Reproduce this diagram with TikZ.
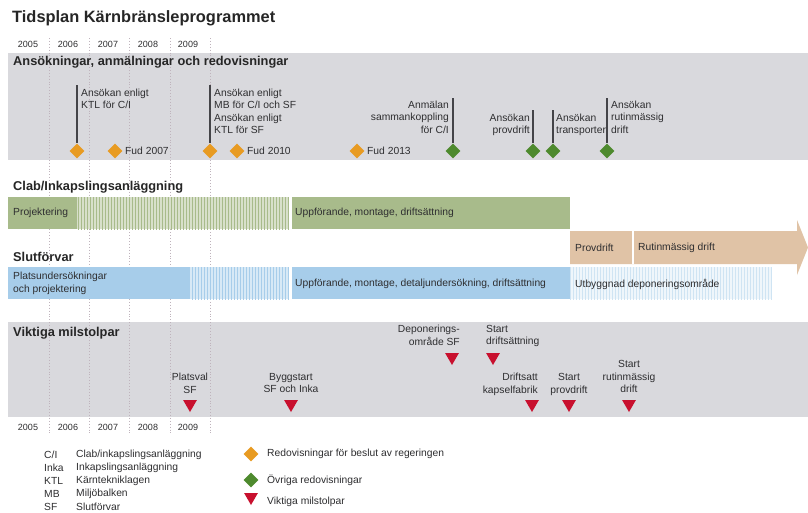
\documentclass[tikz,border=0pt]{standalone}
\usepackage{fontspec}
\setmainfont{Liberation Sans}
\usetikzlibrary{shapes.geometric,patterns}
\definecolor{bandgray}{HTML}{D9D9DD}
\definecolor{txt}{HTML}{2E2E30}
\definecolor{gridc}{HTML}{BFB3BC}
\definecolor{greenbar}{HTML}{A8BB8B}
\definecolor{bluebar}{HTML}{A7CDEA}
\definecolor{tanbar}{HTML}{E0C3A6}
\definecolor{orangem}{HTML}{E89B22}
\definecolor{greenm}{HTML}{4E8A2E}
\definecolor{redm}{HTML}{C8102E}
\definecolor{stemc}{HTML}{444448}
\tikzset{
  lbl/.style={inner sep=0pt, text=txt, font=\fontsize{10.3}{12.6}\selectfont},
  yr/.style={inner sep=0pt, text=txt, font=\fontsize{9}{11}\selectfont},
  sectitle/.style={inner sep=0pt, text=black!85, font=\bfseries\fontsize{12.8}{14}\selectfont, anchor=west},
  odia/.style={diamond, fill=orangem, inner sep=0pt, minimum size=15pt},
  gdia/.style={diamond, fill=greenm, inner sep=0pt, minimum size=15pt},
  rtri/.style={regular polygon, regular polygon sides=3, shape border rotate=180, fill=redm, inner sep=0pt, minimum size=16pt},
  stem/.style={draw=stemc, line width=1.9pt},
  gridline/.style={draw=gridc, dotted, line width=0.9pt},
}
\begin{document}
\begin{tikzpicture}[x=1pt,y=-1pt]
\useasboundingbox (0,0) rectangle (808,512);
\fill[white] (0,0) rectangle (808,512);
% title
\node[inner sep=0pt, anchor=west, font=\bfseries\fontsize{16.4}{18}\selectfont, text=black!85] (title) at (12,18) {Tidsplan Kärnbränsleprogrammet};
% bands
\fill[bandgray] (8,53) rectangle (808,160);
\fill[bandgray] (8,322) rectangle (808,417);
% grid
\foreach \gx in {49,89,129,170,210} \draw[gridline] (\gx,38) -- (\gx,433);
% years
\foreach \yx/\yv in {28/2005,68/2006,108/2007,148/2008,188/2009} {
  \node[yr] (ytop\yv) at (\yx,44) {\yv};
  \node[yr] (ybot\yv) at (\yx,427) {\yv};
}
% section titles
\node[sectitle] (s1) at (13,62) {Ansökningar, anmälningar och redovisningar};
\node[sectitle] (s2) at (13,187) {Clab/Inkapslingsanläggning};
\node[sectitle] (s3) at (13,257) {Slutförvar};
\node[sectitle] (s4) at (13,333) {Viktiga milstolpar};
% ---- band 1 milestones
\coordinate (t1) at (77,85);
\coordinate (t2) at (210,85);
\coordinate (t3) at (453,98);
\coordinate (t4) at (533,110);
\coordinate (t5) at (553,110);
\coordinate (t6) at (607,98);
\node[odia] (d1) at (77,151) {};
\node[odia] (d2) at (115,151) {};
\node[odia] (d3) at (210,151) {};
\node[odia] (d4) at (237,151) {};
\node[odia] (d5) at (357,151) {};
\node[gdia] (g1) at (453,151) {};
\node[gdia] (g2) at (533,151) {};
\node[gdia] (g3) at (553,151) {};
\node[gdia] (g4) at (607,151) {};
\draw[stem] (t1) -- (d1);
\draw[stem] (t2) -- (d3);
\draw[stem] (t3) -- (g1);
\draw[stem] (t4) -- (g2);
\draw[stem] (t5) -- (g3);
\draw[stem] (t6) -- (g4);
\node[lbl, anchor=north west, align=left] (l1) at (81,88.5) {Ansökan enligt\\KTL för C/I};
\node[lbl, anchor=north west, align=left] (l2) at (214,88.5) {Ansökan enligt\\MB för C/I och SF\\Ansökan enligt\\KTL för SF};
\node[lbl, anchor=north east, align=right] (l3) at (449,100.5) {Anmälan\\sammankoppling\\för C/I};
\node[lbl, anchor=north east, align=right] (l4) at (530,113.5) {Ansökan\\provdrift};
\node[lbl, anchor=north west, align=left] (l5) at (556,113.5) {Ansökan\\transporter};
\node[lbl, anchor=north west, align=left] (l6) at (611,100.5) {Ansökan\\rutinmässig\\drift};
\node[lbl, anchor=west] (f1) at (125,151) {Fud 2007};
\node[lbl, anchor=west] (f2) at (247,151) {Fud 2010};
\node[lbl, anchor=west] (f3) at (367,151) {Fud 2013};
% ---- Clab bar
\fill[greenbar] (8,197) rectangle (77,229);
\fill[greenbar!45] (77,197) rectangle (289,229);
\fill[pattern=vertical lines, pattern color=greenbar] (77,197) rectangle (289,229);
\fill[greenbar] (292,197) rectangle (570,229);
\node[lbl, anchor=west] (c1) at (13,213) {Projektering};
\node[lbl, anchor=west] (c2) at (295,213) {Uppförande, montage, driftsättning};
% ---- tan arrow
\fill[tanbar] (570,231) -- (797,231) -- (797,220) -- (808,247.5) -- (797,275) -- (797,264) -- (570,264) -- cycle;
\draw[white, line width=1.5pt] (633,231) -- (633,264);
\node[lbl, anchor=west] (p1) at (575,248) {Provdrift};
\node[lbl, anchor=west] (p2) at (638,248) {Rutinmässig drift};
% ---- Slutförvar bar
\fill[bluebar] (8,267) rectangle (190,299);
\fill[bluebar!45] (190,267) rectangle (289,299);
\fill[pattern=vertical lines, pattern color=bluebar] (190,267) rectangle (289,299);
\fill[bluebar] (292,267) rectangle (570,299);
\fill[bluebar!18] (570,267) rectangle (772,299);
\fill[pattern=vertical lines, pattern color=bluebar!55] (570,267) rectangle (772,299);
\node[lbl, anchor=north west, align=left] (b1) at (13,272) {Platsundersökningar\\och projektering};
\node[lbl, anchor=west] (b2) at (295,284) {Uppförande, montage, detaljundersökning, driftsättning};
\node[lbl, anchor=west] (b3) at (575,284) {Utbyggnad deponeringsområde};
% ---- milestones band 2
\node[rtri] (m1) at (190,404) {};
\node[rtri] (m2) at (291,404) {};
\node[rtri] (m3) at (452,357) {};
\node[rtri] (m4) at (493,357) {};
\node[rtri] (m5) at (532,404) {};
\node[rtri] (m6) at (569,404) {};
\node[rtri] (m7) at (629,404) {};
\node[lbl, anchor=north, align=center] (ml1) at (190,373) {Platsval\\SF};
\node[lbl, anchor=north, align=center] (ml2) at (291,373) {Byggstart\\SF och Inka};
\node[lbl, anchor=north east, align=right] (ml3) at (460,325) {Deponerings-\\område SF};
\node[lbl, anchor=north west, align=left] (ml4) at (486,325) {Start\\driftsättning};
\node[lbl, anchor=north east, align=right] (ml5) at (538,373) {Driftsatt\\kapselfabrik};
\node[lbl, anchor=north, align=center] (ml6) at (569,373) {Start\\provdrift};
\node[lbl, anchor=north, align=center] (ml7) at (629,360) {Start\\rutinmässig\\drift};
% ---- legend
\node[lbl, anchor=west] (ab1) at (44,455) {C/I};
\node[lbl, anchor=west] (de1) at (76,455) {Clab/inkapslingsanläggning};
\node[lbl, anchor=west] (ab2) at (44,468) {Inka};
\node[lbl, anchor=west] (de2) at (76,468) {Inkapslingsanläggning};
\node[lbl, anchor=west] (ab3) at (44,481) {KTL};
\node[lbl, anchor=west] (de3) at (76,481) {Kärntekniklagen};
\node[lbl, anchor=west] (ab4) at (44,494) {MB};
\node[lbl, anchor=west] (de4) at (76,494) {Miljöbalken};
\node[lbl, anchor=west] (ab5) at (44,507) {SF};
\node[lbl, anchor=west] (de5) at (76,507) {Slutförvar};
\node[odia] (lg1) at (251,454) {};
\node[lbl, anchor=west] (lgt1) at (267,454) {Redovisningar för beslut av regeringen};
\node[gdia] (lg2) at (251,480) {};
\node[lbl, anchor=west] (lgt2) at (267,480) {Övriga redovisningar};
\node[rtri] (lg3) at (251,497) {};
\node[lbl, anchor=west] (lgt3) at (267,502) {Viktiga milstolpar};
\end{tikzpicture}
\end{document}
